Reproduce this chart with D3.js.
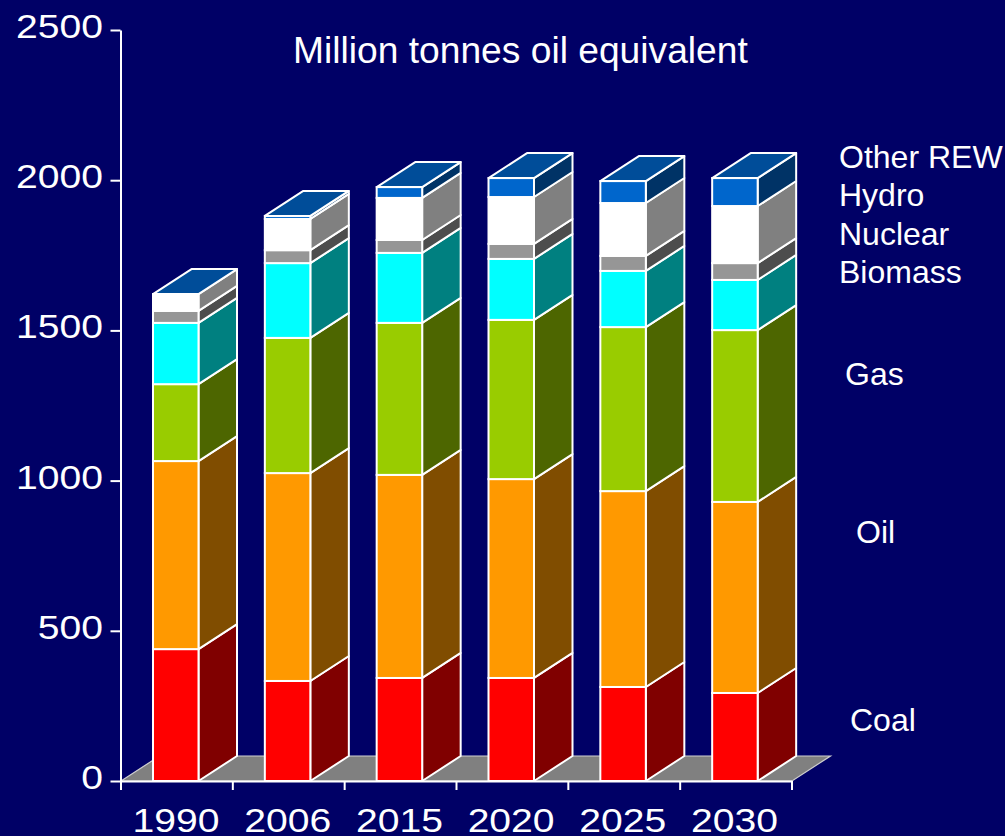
<!DOCTYPE html>
<html><head><meta charset="utf-8"><script src="https://cdn.jsdelivr.net/npm/d3@7"></script>
<style>html,body{margin:0;padding:0;background:#000066;overflow:hidden}svg{display:block}text{font-family:"Liberation Sans",Arial,sans-serif;fill:#fff}</style></head>
<body><svg id="c" width="1005" height="836"></svg>
<script>
const years = ["1990","2006","2015","2020","2025","2030"];
const seriesNames = ["Coal","Oil","Gas","Biomass","Nuclear","Hydro","Other REW"];
const coal = [439,333,343,343,313,293];
const oil = [626,692,676,662,652,636];
const gas = [256,450,506,530,546,572];
const biomass = [204,249,233,203,187,167];
const nuclear = [40,43,43,50,50,56];
const hydro = [56,104,140,156,176,190];
const otherRew = [0,10,36,63,73,93];
const allSeries = [coal,oil,gas,biomass,nuclear,hydro,otherRew];
const frontColors = ["#ff0000","#ff9900","#99cc00","#00ffff","#969696","#ffffff","#0066cc"];
const sideColors = ["#800000","#804d00","#4d6600","#008080","#4d4d4d","#808080","#003366"];
const topColor = "#004d99";
const yTicks = [0,500,1000,1500,2000,2500];
const legendPos = [[850,731],[856,543],[845,385],[839,283],[839,245],[839,206],[839,168]];

const svg = d3.select("#c");
const y = d3.scaleLinear().domain([0,2500]).range([781,30]);
const x = d3.scaleBand().domain(years).range([121,792]);
const edge = d3.scaleLinear().domain([0,years.length]).range([121,792]);
const labelX = d3.scalePoint().domain(years).range([176,734.5]);
const barOff = 32, barW = 45.5, dx = 38.5, dy = -25;
const line = d3.line();

// floor
svg.append("path").attr("d", line([[121,781],[121+dx,781+dy],[792+dx,781+dy],[792,781]])+"Z")
  .attr("fill","#808080").attr("stroke","#cfcfcf").attr("stroke-width",1.2);

// bars
years.forEach((yr,i)=>{
  const x0 = x(yr)+barOff, x1 = x0+barW;
  let cum = 0;
  const g = svg.append("g");
  allSeries.forEach((s,k)=>{
    const a = y(cum), b = y(cum+s[i]);
    cum += s[i];
    if (s[i] <= 0) return;
    g.append("path").attr("d", line([[x1,a],[x1+dx,a+dy],[x1+dx,b+dy],[x1,b]])+"Z")
      .attr("fill",sideColors[k]).attr("stroke","#fff").attr("stroke-width",2).attr("stroke-linejoin","round");
    g.append("rect").attr("x",x0).attr("y",b).attr("width",barW).attr("height",a-b)
      .attr("fill",frontColors[k]).attr("stroke","#fff").attr("stroke-width",2);
  });
  const t = y(cum);
  g.append("path").attr("d", line([[x0,t],[x0+dx,t+dy],[x1+dx,t+dy],[x1,t]])+"Z")
    .attr("fill",topColor).attr("stroke","#fff").attr("stroke-width",2).attr("stroke-linejoin","round");
});

// axes
const yAxis = svg.append("g").attr("transform","translate(120.5,0)")
  .call(d3.axisLeft(y).tickValues(yTicks).tickSize(10).tickSizeOuter(0).tickFormat(d3.format("d")));
const xAxis = svg.append("g").attr("transform","translate(-0.5,781)")
  .call(d3.axisBottom(edge).tickValues(d3.range(years.length+1)).tickSize(9).tickSizeOuter(0).tickFormat(""));
[yAxis,xAxis].forEach(a=>{
  a.selectAll(".domain").attr("stroke","#fff").attr("stroke-width",2);
  a.selectAll(".tick line").attr("stroke","#fff").attr("stroke-width",2);
});
yAxis.selectAll(".tick text").remove();
yTicks.forEach(v=>{
  svg.append("text").attr("text-anchor","end").attr("font-size",34)
    .attr("transform",`translate(103,${y(v)+8}) scale(1.15,1)`).text(v);
});
years.forEach(yr=>{
  svg.append("text").attr("text-anchor","middle").attr("font-size",34)
    .attr("transform",`translate(${labelX(yr)},832) scale(1.15,1)`).text(yr);
});
seriesNames.forEach((n,k)=>{
  svg.append("text").attr("x",legendPos[k][0]).attr("y",legendPos[k][1]).attr("font-size",32).text(n);
});
svg.append("text").attr("x",293).attr("y",63).attr("font-size",37.2).text("Million tonnes oil equivalent");
</script></body></html>
